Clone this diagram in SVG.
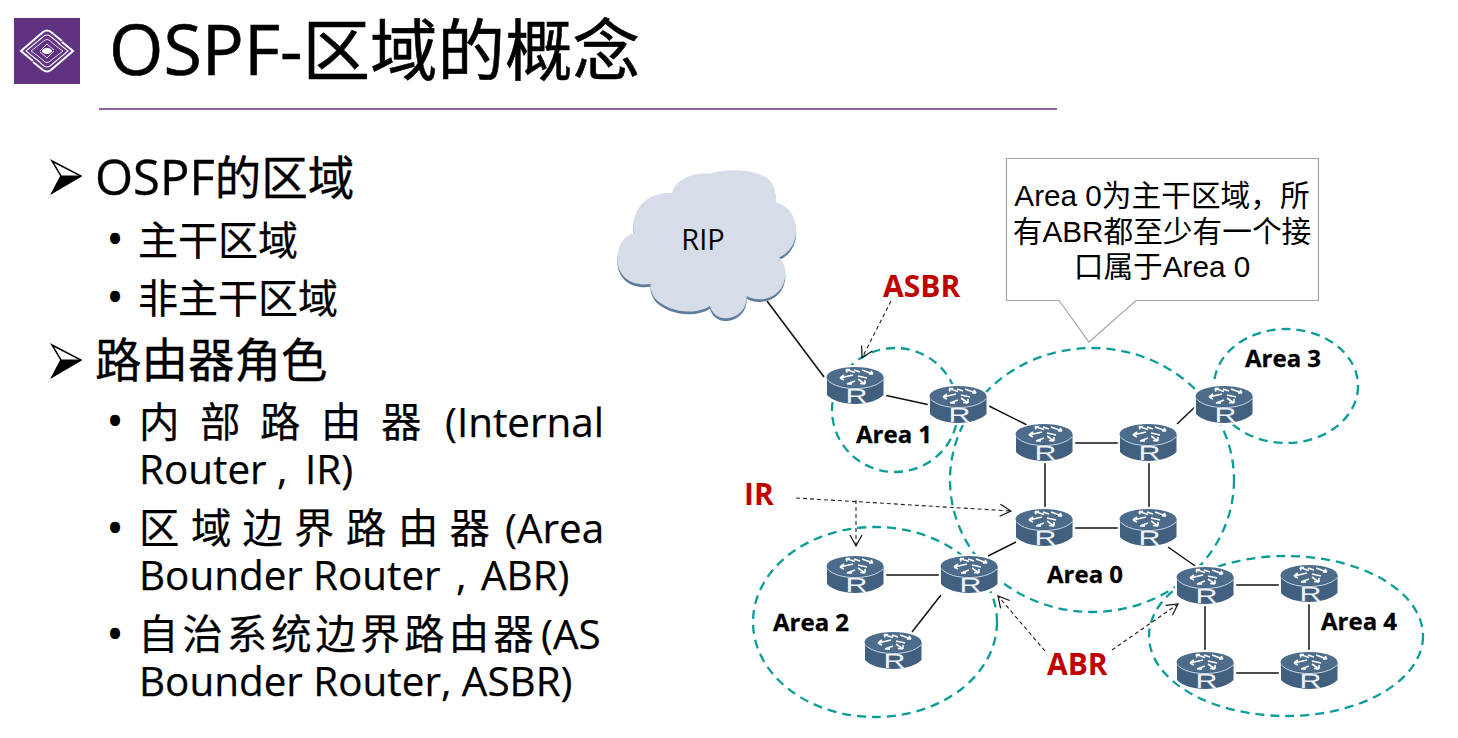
<svg xmlns="http://www.w3.org/2000/svg" xmlns:xlink="http://www.w3.org/1999/xlink" width="1458" height="738" viewBox="0 0 1458 738">
<style>
text{font-family:"Open Sans","Noto Sans CJK SC","Noto Sans",sans-serif;fill:#000}
.h{font-size:46.500px;stroke:#000;stroke-width:.35px}
.lat{font-size:49px}
.b{font-size:48px}
.s{font-size:40.400px;stroke:#000;stroke-width:.25px}
.area{font-family:"Open Sans","Noto Sans",sans-serif;font-size:24px;font-weight:700;stroke:#000;stroke-width:.3px}
.red{font-family:"Open Sans","Noto Sans",sans-serif;font-size:30px;font-weight:700;fill:#c00000}
.call{font-family:"Liberation Sans","Noto Sans CJK SC",sans-serif;font-size:29.700px;text-anchor:middle}
.e{fill:none;stroke:#0c9c98;stroke-width:2.300;stroke-dasharray:9 6}
.l{stroke:#111;stroke-width:1.500;fill:none}
.d{stroke:#222;stroke-width:1.100;stroke-dasharray:4 3;fill:none}
.ri{font-family:"Liberation Sans",sans-serif;font-size:21px;fill:#eef2f6}
</style>
<defs>
<marker id="ah" viewBox="0 0 14 14" refX="13" refY="7" markerWidth="14" markerHeight="14" markerUnits="userSpaceOnUse" orient="auto"><path d="M2 1L13 7L2 13" fill="none" stroke="#111" stroke-width="1.200"/></marker>
<g id="bullet"><path d="M0 0L29 15L0 32L9 15Z" fill="#fff" stroke="#000" stroke-width="1.500"/><path d="M0 32L9 15L29 15Z" fill="#000" stroke="#000"/></g>
<g id="router">
<path d="M-1 10V28C3 34 16 38 28 38C40 38 54 34 58 28V10C54 3 40 -1 28 -1C16 -1 3 3 -1 10Z" fill="#fff" stroke="#fff" stroke-width="2.500"/>
<path d="M0 10V28C4 33 16 37 28 37C40 37 52 33 56.500 28V10Z" fill="#41607f"/>
<ellipse cx="28" cy="10" rx="28.500" ry="10" fill="#4d6c8b"/>
<path d="M0.500 13C6 19 17 21.500 28 21.500C39 21.500 50 19 56 13" fill="none" stroke="#dfe6ee" stroke-width="0.900"/>
<path d="M19 2.500L28 5.500M19 2.500h4M19 2.500l1 3M35 3L46 7M46 7h-4M46 7l-2 -3M26 8L13 11M13 11l4 -3M13 11l4 2M31 9L40 11M28 14L20 17M20 17l5 0M31 12L38 17M38 17l-5 -0.500M38 17l0 -4M27 3L33 5" fill="none" stroke="#fff" stroke-width="1.600"/>
<text class="ri" transform="translate(18.500,36) scale(1.450,1)" x="0" y="0">R</text>
</g>
</defs>
<rect width="1458" height="738" fill="#fff"/>

<g id="logo">
<rect x="14" y="18" width="66" height="66" fill="#5f3282"/>
<path d="M33 61L21 51L43 32Q47 29 51 32L62 41M62 42L73 51L51 70Q47 73 43 70L33 62" fill="none" stroke="#fff" stroke-width="2"/>
<path d="M37 60L26 51L44 36Q47 34 50 36L60 44M58 43L68 51L50 66Q47 68 44 66L35 58" fill="none" stroke="#f4eef8" stroke-width="1.200"/>
<path d="M38 56L31 51L45 40Q47 39 49 40L56 46M56 46L63 51L49 62Q47 63 45 62L38 56M40 51L47 44L54 50M54 51L47 58L40 52" fill="none" stroke="#e9dff0" stroke-width="1"/>
<ellipse cx="47" cy="51" rx="5" ry="3" fill="#fff"/>
</g>
<text id="title" x="109" y="75" font-size="67.500" stroke="#000" stroke-width=".6"><tspan font-size="70">OSPF-</tspan>区域的概念</text>
<path id="rule" d="M99 109H1057" stroke="#5f3282" stroke-width="1.500" fill="none"/>

<g id="body">
<use xlink:href="#bullet" x="52" y="161"/>
<text class="h" x="95" y="195"><tspan class="lat">OSPF</tspan>的区域</text>
<text class="b" x="106" y="256">•</text><text class="s" x="138" y="255" style="font-size:40px">主干区域</text>
<text class="b" x="106" y="314">•</text><text class="s" x="138" y="313" style="font-size:40px">非主干区域</text>
<use xlink:href="#bullet" x="52" y="345"/>
<text class="h" x="95" y="377">路由器角色</text>
<text class="b" x="106" y="438">•</text>
<text class="s" y="437"><tspan x="139">内</tspan><tspan x="200">部</tspan><tspan x="260">路</tspan><tspan x="321">由</tspan><tspan x="381">器</tspan><tspan x="445">(Internal</tspan></text>
<text class="s" y="484"><tspan x="139">Router</tspan><tspan x="277">,</tspan><tspan x="305">IR)</tspan></text>
<text class="b" x="106" y="545">•</text>
<text class="s" y="543"><tspan x="139">区</tspan><tspan x="191">域</tspan><tspan x="242.500">边</tspan><tspan x="294">界</tspan><tspan x="346">路</tspan><tspan x="398">由</tspan><tspan x="449.500">器</tspan><tspan x="505">(Area</tspan></text>
<text class="s" y="590"><tspan x="139">Bounder</tspan><tspan x="313">Router</tspan><tspan x="456">,</tspan><tspan x="481">ABR)</tspan></text>
<text class="b" x="106" y="651">•</text>
<text class="s" y="649"><tspan x="138" letter-spacing="4">自治系统边界路由器</tspan><tspan x="541">(AS</tspan></text>
<text class="s" x="139" y="696">Bounder Router, ASBR)</text>
</g>

<g id="area-ellipses">
<ellipse class="e" cx="895" cy="410" rx="63" ry="62"/>
<ellipse class="e" cx="1092" cy="480" rx="142" ry="132"/>
<ellipse class="e" cx="1286" cy="386" rx="72" ry="57"/>
<ellipse class="e" cx="875" cy="622" rx="122" ry="95"/>
<ellipse class="e" cx="1286" cy="636" rx="137" ry="80"/>
</g>

<g id="connectors">
<path class="l" d="M767 301L824 377"/>
<path class="l" d="M884 395L930 405"/>
<path class="l" d="M987 405L1027 425"/>
<path class="l" d="M1073 443H1120"/>
<path class="l" d="M1177 424L1197 405"/>
<path class="l" d="M1045 462V509"/>
<path class="l" d="M1149 462V509"/>
<path class="l" d="M1073 528H1120"/>
<path class="l" d="M1168 547L1198 568"/>
<path class="l" d="M988 556L1016 542"/>
<path class="l" d="M884 575H941"/>
<path class="l" d="M941 595L912 632"/>
<path class="l" d="M1234 585H1281"/>
<path class="l" d="M1205 604V652"/>
<path class="l" d="M1309 604V652"/>
<path class="l" d="M1234 673H1281"/>
<path class="d" marker-end="url(#ah)" d="M891 301L862 358"/>
<path class="d" marker-end="url(#ah)" d="M796 498L1011 511"/>
<path class="d" marker-end="url(#ah)" d="M856 500V546"/>
<path class="d" marker-end="url(#ah)" d="M1045 651L998 596"/>
<path class="d" marker-end="url(#ah)" d="M1112 650L1178 604"/>
</g>

<g id="r1"><use xlink:href="#router" x="827" y="367"/></g>
<g id="r2"><use xlink:href="#router" x="930" y="386"/></g>
<g id="r3"><use xlink:href="#router" x="1016" y="424"/></g>
<g id="r4"><use xlink:href="#router" x="1120" y="424"/></g>
<g id="r5"><use xlink:href="#router" x="1196" y="386"/></g>
<g id="r6"><use xlink:href="#router" x="1016" y="509"/></g>
<g id="r7"><use xlink:href="#router" x="1120" y="509"/></g>
<g id="r8"><use xlink:href="#router" x="1177" y="567"/></g>
<g id="r9"><use xlink:href="#router" x="1281" y="565"/></g>
<g id="r10"><use xlink:href="#router" x="1177" y="652"/></g>
<g id="r11"><use xlink:href="#router" x="1281" y="652"/></g>
<g id="r12"><use xlink:href="#router" x="827" y="556"/></g>
<g id="r13"><use xlink:href="#router" x="941" y="556"/></g>
<g id="r14"><use xlink:href="#router" x="865" y="632"/></g>

<g id="cloud">
<g transform="translate(610,170) scale(.3333)">
<path d="M72 190C60 130 100 65 187 68C195 30 250 5 300 12C340 -5 440 -5 478 30C495 50 500 75 498 98C540 105 562 150 558 190C555 225 535 250 508 262C535 290 530 340 505 365C480 390 440 395 410 378C412 420 380 445 345 445C325 445 305 430 300 408C260 435 175 430 135 385C125 370 120 355 122 342C70 350 25 325 22 270C20 235 40 195 72 190Z" fill="#5d7c9c" transform="translate(0,8)"/>
<path d="M72 190C60 130 100 65 187 68C195 30 250 5 300 12C340 -5 440 -5 478 30C495 50 500 75 498 98C540 105 562 150 558 190C555 225 535 250 508 262C535 290 530 340 505 365C480 390 440 395 410 378C412 420 380 445 345 445C325 445 305 430 300 408C260 435 175 430 135 385C125 370 120 355 122 342C70 350 25 325 22 270C20 235 40 195 72 190Z" fill="#d6dde8"/>
</g>
<text x="703" y="250" font-size="29" text-anchor="middle">RIP</text>
</g>

<g id="callout">
<path d="M1006.500 158.500H1318.500V300.500H1136L1089 342L1059 300.500H1006.500Z" fill="#fff" stroke="#a6a6a6" stroke-width="1.200"/>
<text class="call" x="1162" y="206">Area 0为主干区域，所</text>
<text class="call" x="1162" y="242">有ABR都至少有一个接</text>
<text class="call" x="1162" y="277">口属于Area 0</text>
</g>

<g id="labels">
<text class="area" x="856" y="443">Area 1</text>
<text class="area" x="1047" y="583">Area 0</text>
<text class="area" x="1245" y="367">Area 3</text>
<text class="area" x="773" y="631">Area 2</text>
<text class="area" x="1321" y="630">Area 4</text>
<text class="red" x="883" y="297">ASBR</text>
<text class="red" x="744" y="505">IR</text>
<text class="red" x="1047" y="675">ABR</text>
</g>
</svg>
